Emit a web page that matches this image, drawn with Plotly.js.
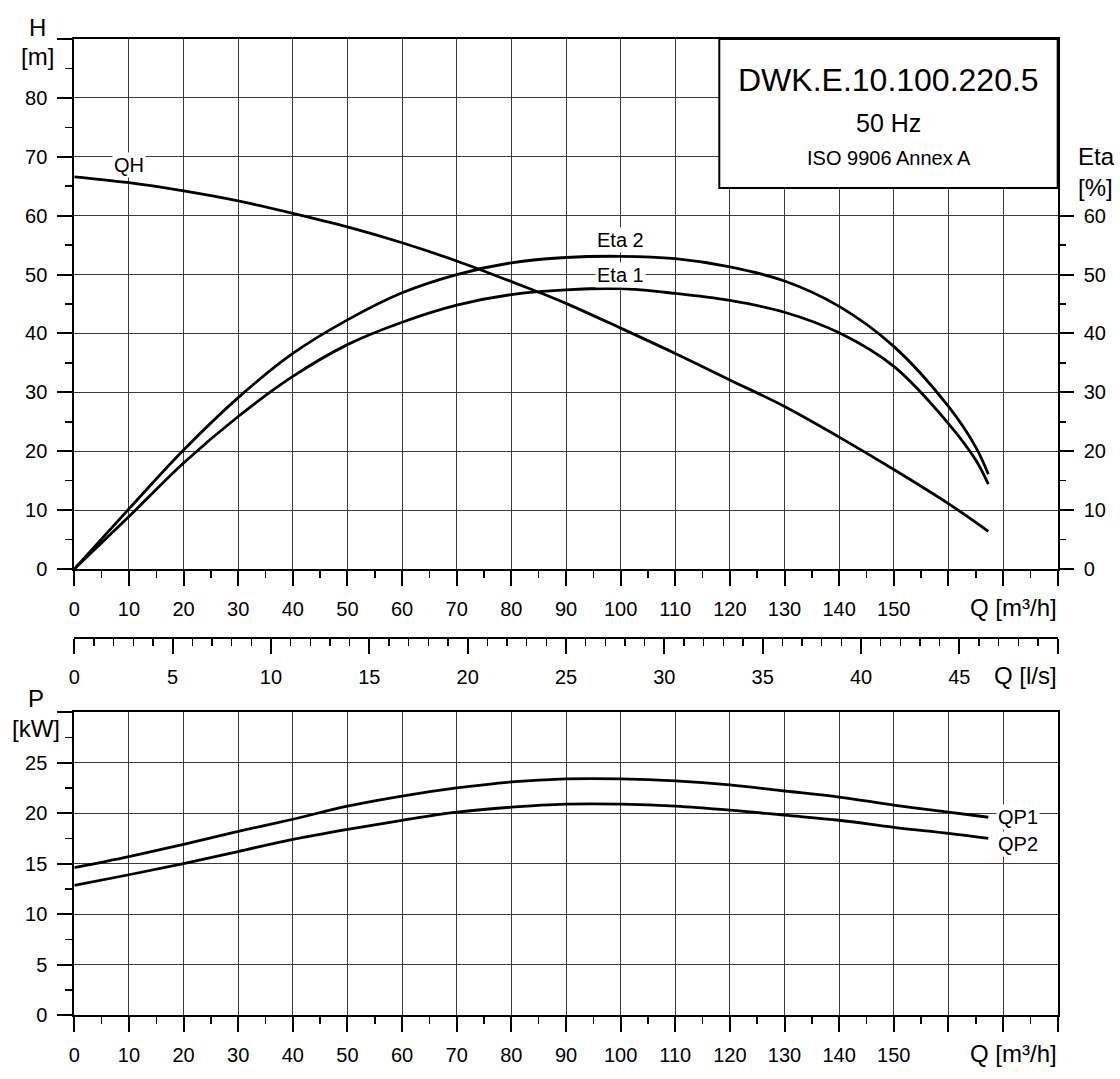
<!DOCTYPE html>
<html>
<head>
<meta charset="utf-8">
<script src="https://cdn.plot.ly/plotly-3.0.1.min.js"></script>
<style>html,body{margin:0;padding:0;background:#fff;}#chart{width:1120px;height:1079px;}</style>
</head>
<body>
<div id="chart"></div>
<script>
// ---- data ----
const qHead = [0,10,20,30,40,50,60,70,80,85,90,100,110,120,130,140,150,160,167.3];
const head  = [66.6,65.6,64.2,62.5,60.4,58.1,55.4,52.3,48.8,47.0,45.1,40.9,36.6,32.1,27.6,22.4,16.9,11.1,6.4];

const qEta = [0,10,20,30,40,50,60,70,80,90,100,110,120,130,140,150,160,165,167.3];
const eta2 = [0,10.2,20.2,29.1,36.6,42.3,46.9,50.0,52.0,52.9,53.1,52.7,51.3,48.9,44.6,37.8,27.6,20.7,16.1];
const eta1 = [0,8.9,18.0,25.9,32.7,38.1,41.9,44.8,46.6,47.4,47.6,46.8,45.6,43.6,40.1,34.4,24.7,18.5,14.4];

const qPow = [0,10,20,30,40,50,60,70,80,90,100,110,120,130,140,150,160,167.3];
const qp1  = [14.6,15.7,16.9,18.2,19.4,20.7,21.7,22.5,23.1,23.4,23.4,23.2,22.8,22.2,21.6,20.8,20.1,19.6];
const qp2  = [12.85,13.9,15.0,16.2,17.4,18.4,19.3,20.1,20.6,20.9,20.9,20.7,20.3,19.8,19.3,18.6,18.0,17.5];

const qTickVals = [0,10,20,30,40,50,60,70,80,90,100,110,120,130,140,150,160,170,180];
const qTickText = ['0','10','20','30','40','50','60','70','80','90','100','110','120','130','140','150','','',''];
const hTickVals = [0,10,20,30,40,50,60,70,80,90];
const hTickText = ['0','10','20','30','40','50','60','70','80',''];
const etaTickVals = [0,10,20,30,40,50,60];
const lsTickVals = [0,5,10,15,20,25,30,35,40,45,50];
const lsTickText = ['0','5','10','15','20','25','30','35','40','45',''];
const pTickVals = [0,5,10,15,20,25,30];
const pTickText = ['0','5','10','15','20','25',''];

const titleLines = ['DWK.E.10.100.220.5','50 Hz','ISO 9906 Annex A'];
const curveLabels = {qh:'QH', eta2:'Eta 2', eta1:'Eta 1', qp1:'QP1', qp2:'QP2'};

// ---- helpers (pixel -> paper) ----
const W = 1120, Hpx = 1079;
const xp = px => px / W;
const yp = py => 1 - py / Hpx;
const FONT = 'Liberation Sans, Arial, sans-serif';
const GRID = '#3a3a3a';

function range(a, b, s){ const r=[]; for(let v=a; v<=b+1e-9; v+=s) r.push(+v.toFixed(3)); return r; }

const xDom = [xp(74.3), xp(1057.7)];
const lineStyle = {color:'#000', width:2.8, shape:'spline', smoothing:1};

const traces = [
  {x:qHead, y:head, xaxis:'x', yaxis:'y', mode:'lines', line:lineStyle, hoverinfo:'skip'},
  {x:qEta, y:eta2, xaxis:'x', yaxis:'y2', mode:'lines', line:lineStyle, hoverinfo:'skip'},
  {x:qEta, y:eta1, xaxis:'x', yaxis:'y2', mode:'lines', line:lineStyle, hoverinfo:'skip'},
  {x:qPow, y:qp1, xaxis:'x2', yaxis:'y3', mode:'lines', line:lineStyle, hoverinfo:'skip'},
  {x:qPow, y:qp2, xaxis:'x2', yaxis:'y3', mode:'lines', line:lineStyle, hoverinfo:'skip'},
  {x:[], y:[], xaxis:'x3', yaxis:'y4', mode:'lines', hoverinfo:'skip'}
];

const tickFont = {family:FONT, size:20, color:'#000'};
function qAxis(anchor){
  return {
    domain:xDom, anchor:anchor, range:[0,180], tickmode:'array', tickvals:qTickVals, ticktext:qTickText,
    ticks:'outside', ticklen:15, tickwidth:2, tickcolor:'#000', ticklabelstandoff:6,
    showline:true, linewidth:2, linecolor:'#000', mirror:true,
    showgrid:true, gridcolor:GRID, gridwidth:1, zeroline:false, tickfont:tickFont,
    minor:{tickmode:'array', tickvals:range(5,175,10), ticks:'outside', ticklen:7, tickwidth:1.5, tickcolor:'#000', showgrid:false},
    fixedrange:true
  };
}

const layout = {
  width:W, height:Hpx, margin:{l:0,r:0,t:0,b:0},
  paper_bgcolor:'#fff', plot_bgcolor:'#fff', showlegend:false,
  font:{family:FONT, color:'#000'},
  xaxis: qAxis('y'),
  yaxis: {
    domain:[yp(569), yp(39)], anchor:'x', range:[0,90], tickmode:'array', tickvals:hTickVals, ticktext:hTickText,
    ticks:'outside', ticklen:15, tickwidth:2, tickcolor:'#000', ticklabelstandoff:6,
    showline:true, linewidth:2, linecolor:'#000', mirror:true,
    showgrid:true, gridcolor:GRID, gridwidth:1, zeroline:false, tickfont:tickFont,
    minor:{tickmode:'array', tickvals:range(5,85,10), ticks:'outside', ticklen:7, tickwidth:1.5, tickcolor:'#000', showgrid:false}
  },
  yaxis2: {
    overlaying:'y', side:'right', anchor:'x', range:[0,90], tickmode:'array', tickvals:etaTickVals,
    ticks:'outside', ticklen:15, tickwidth:2, tickcolor:'#000', ticklabelstandoff:6,
    showline:false, showgrid:false, zeroline:false, tickfont:tickFont,
    minor:{tickmode:'array', tickvals:range(5,55,10), ticks:'outside', ticklen:7, tickwidth:1.5, tickcolor:'#000', showgrid:false}
  },
  xaxis2: qAxis('y3'),
  yaxis3: {
    domain:[yp(1015), yp(712.3)], anchor:'x2', range:[0,30], tickmode:'array', tickvals:pTickVals, ticktext:pTickText,
    ticks:'outside', ticklen:15, tickwidth:2, tickcolor:'#000', ticklabelstandoff:6,
    showline:true, linewidth:2, linecolor:'#000', mirror:true,
    showgrid:true, gridcolor:GRID, gridwidth:1, zeroline:false, tickfont:tickFont,
    minor:{tickmode:'array', tickvals:range(2.5,27.5,5), ticks:'outside', ticklen:7, tickwidth:1.5, tickcolor:'#000', showgrid:false}
  },
  xaxis3: {
    domain:xDom, anchor:'y4', range:[0,50], tickmode:'array', tickvals:lsTickVals, ticktext:lsTickText,
    ticks:'outside', ticklen:15, tickwidth:2, tickcolor:'#000', ticklabelstandoff:6,
    showline:true, linewidth:2, linecolor:'#000', mirror:false,
    showgrid:false, zeroline:false, tickfont:tickFont,
    minor:{tickmode:'linear', tick0:0, dtick:1, ticks:'outside', ticklen:7, tickwidth:1.5, tickcolor:'#000', showgrid:false}
  },
  yaxis4: {domain:[yp(636.7), yp(636.7)+0.003], anchor:'x3', range:[0,1], visible:false},
  shapes: [
    {type:'rect', xref:'paper', yref:'paper', x0:xp(719.3), x1:xp(1057.7), y0:yp(188), y1:yp(39),
     fillcolor:'#fff', line:{color:'#000', width:2}, layer:'above'}
  ],
  annotations: [
    // box text
    {text:titleLines[0], xref:'paper', yref:'paper', x:xp(888.5), y:yp(80), showarrow:false, xanchor:'center', yanchor:'middle', font:{family:FONT, size:32}},
    {text:titleLines[1], xref:'paper', yref:'paper', x:xp(888.5), y:yp(123), showarrow:false, xanchor:'center', yanchor:'middle', font:{family:FONT, size:25}},
    {text:titleLines[2], xref:'paper', yref:'paper', x:xp(888.5), y:yp(158), showarrow:false, xanchor:'center', yanchor:'middle', font:{family:FONT, size:20}},
    // axis titles
    {text:'H', xref:'paper', yref:'paper', x:xp(37), y:yp(27), showarrow:false, xanchor:'center', yanchor:'middle', font:{family:FONT, size:24}},
    {text:'[m]', xref:'paper', yref:'paper', x:xp(37), y:yp(57), showarrow:false, xanchor:'center', yanchor:'middle', font:{family:FONT, size:24}},
    {text:'Eta', xref:'paper', yref:'paper', x:xp(1076), y:yp(157), showarrow:false, xanchor:'left', yanchor:'middle', font:{family:FONT, size:24}},
    {text:'[%]', xref:'paper', yref:'paper', x:xp(1076), y:yp(188), showarrow:false, xanchor:'left', yanchor:'middle', font:{family:FONT, size:24}},
    {text:'Q [m³/h]', xref:'paper', yref:'paper', x:xp(1059), y:yp(607), showarrow:false, xanchor:'right', yanchor:'middle', font:{family:FONT, size:24}},
    {text:'Q [l/s]', xref:'paper', yref:'paper', x:xp(1059), y:yp(675), showarrow:false, xanchor:'right', yanchor:'middle', font:{family:FONT, size:24}},
    {text:'P', xref:'paper', yref:'paper', x:xp(35.5), y:yp(698), showarrow:false, xanchor:'center', yanchor:'middle', font:{family:FONT, size:24}},
    {text:'[kW]', xref:'paper', yref:'paper', x:xp(36), y:yp(728), showarrow:false, xanchor:'center', yanchor:'middle', font:{family:FONT, size:24}},
    {text:'Q [m³/h]', xref:'paper', yref:'paper', x:xp(1059), y:yp(1053), showarrow:false, xanchor:'right', yanchor:'middle', font:{family:FONT, size:24}},
    // curve labels
    {text:curveLabels.qh, xref:'x', yref:'y', x:10, y:68.6, showarrow:false, bgcolor:'#fff', borderpad:1, font:{family:FONT, size:20}},
    {text:curveLabels.eta2, xref:'x', yref:'y2', x:100, y:55.9, showarrow:false, bgcolor:'#fff', borderpad:1, font:{family:FONT, size:20}},
    {text:curveLabels.eta1, xref:'x', yref:'y2', x:100, y:50.0, showarrow:false, bgcolor:'#fff', borderpad:1, font:{family:FONT, size:20}},
    {text:curveLabels.qp1, xref:'x2', yref:'y3', x:168.7, y:19.6, showarrow:false, xanchor:'left', bgcolor:'#fff', borderpad:1, font:{family:FONT, size:20}},
    {text:curveLabels.qp2, xref:'x2', yref:'y3', x:168.7, y:16.9, showarrow:false, xanchor:'left', bgcolor:'#fff', borderpad:1, font:{family:FONT, size:20}}
  ]
};

Plotly.newPlot('chart', traces, layout, {staticPlot:true, displayModeBar:false});
</script>
</body>
</html>
